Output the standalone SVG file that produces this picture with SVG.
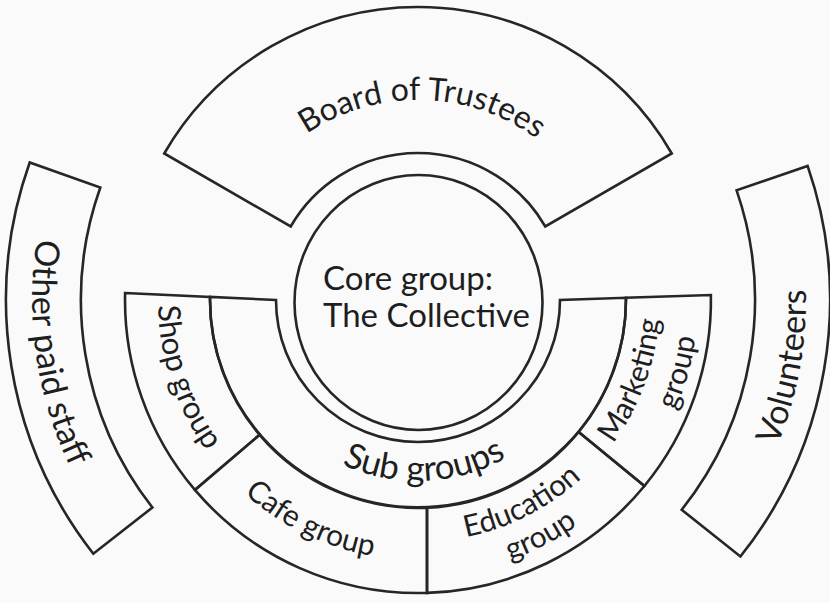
<svg xmlns="http://www.w3.org/2000/svg" width="830" height="603" viewBox="0 0 830 603">
<style>
.shape{fill:none;stroke:#262626;stroke-width:2.6;stroke-linejoin:miter}
.lbl{font-family:Lato,"Open Sans","Liberation Sans",sans-serif;font-size:30px;fill:#1e1e1e}
.mid{text-anchor:middle}
.big{font-size:34px}
</style>
<defs>
<path id="pBoard" d="M221.84,260.98 A200,200 0 0 1 615.67,269.58"/>
<path id="pSub" d="M241.09,338.25 A181,181 0 0 0 597.33,324.57"/>
<path id="pCafe" d="M168.07,228.33 A260,260 0 0 0 628.34,452.83"/>
<path id="pEdu1" d="M224.73,445.64 A242,242 0 0 0 649.42,229.25"/>
<path id="pEdu2" d="M198.74,467.64 A276,276 0 0 0 681.37,217.46"/>
<path id="pMkt1" d="M373.9,537.95 A242,242 0 0 0 540.82,91.49"/>
<path id="pMkt2" d="M391.16,578.71 A280,280 0 0 0 538.54,47.27"/>
<path id="pShop" d="M294.34,71.29 A260,260 0 0 0 455.98,557.21"/>
<path id="pOther" d="M296.8,-66.48 A386,386 0 0 0 406.55,685.83"/>
<path id="pVol" d="M415.97,688 A388,388 0 0 0 552.61,-63.9"/>
</defs>
<rect x="0" y="0" width="830" height="603" fill="#fafafa"/>
<g id="board">
<path class="shape" d="M164.25,153.5 A293,293 0 0 1 671.75,153.5 L545.3,226.5 A147,147 0 0 0 290.7,226.5 Z"/>
<text class="lbl mid" style="font-size:32px"><textPath href="#pBoard" startOffset="50%">Board of Trustees</textPath></text>
</g>
<g id="core">
<ellipse class="shape" cx="418.5" cy="302.5" rx="124" ry="127.5"/>
<text class="lbl" x="323" y="290" style="font-size:33px">Core group:</text>
<text class="lbl" x="323" y="327" style="font-size:33px">The Collective</text>
</g>
<g id="subgroups">
<path class="shape" d="M276,300 L210.02,296.9 A208,208 0 1 0 626,297.8 L560,300 A142,142 0 0 1 276,300 Z"/>
<text class="lbl mid" style="font-size:35px"><textPath href="#pSub" startOffset="50%">Sub groups</textPath></text>
</g>
<g id="shop">
<path class="shape" d="M125.1,293 L210.02,296.9 A208,208 0 0 0 259.6,434.8 L194.9,489.9 A293,293 0 0 1 125.1,293 Z"/>
<text class="lbl mid" style="font-size:31px"><textPath href="#pShop" startOffset="50%">Shop group</textPath></text>
</g>
<g id="cafe">
<path class="shape" d="M259.6,434.8 A208,208 0 0 0 427,507.8 L427,592.9 A293,293 0 0 1 194.9,489.9 Z"/>
<text class="lbl mid"><textPath href="#pCafe" startOffset="50%">Cafe group</textPath></text>
</g>
<g id="education">
<path class="shape" d="M427,507.8 A208,208 0 0 0 578.7,432 L644.4,486 A293,293 0 0 1 427,592.9 Z"/>
<text class="lbl mid"><textPath href="#pEdu1" startOffset="50%">Education</textPath></text>
<text class="lbl mid"><textPath href="#pEdu2" startOffset="50%">group</textPath></text>
</g>
<g id="marketing">
<path class="shape" d="M578.7,432 A208,208 0 0 0 626,297.8 L710.9,295 A293,293 0 0 1 644.4,486 Z"/>
<text class="lbl mid"><textPath href="#pMkt1" startOffset="50%">Marketing</textPath></text>
<text class="lbl mid"><textPath href="#pMkt2" startOffset="50%">group</textPath></text>
</g>
<g id="other-paid-staff">
<path class="shape" d="M29.7,162.5 A412,412 0 0 0 93.3,553.7 L152.4,507.5 A337,337 0 0 1 100.3,187.5 Z"/>
<text class="lbl mid big"><textPath href="#pOther" startOffset="50%">Other paid staff</textPath></text>
</g>
<g id="volunteers">
<path class="shape" d="M807.6,165.9 A412,412 0 0 1 740.4,556.5 L681.7,509.8 A337,337 0 0 0 736.6,190.3 Z"/>
<text class="lbl mid big"><textPath href="#pVol" startOffset="50%">Volunteers</textPath></text>
</g>
<g id="connectors"/>
</svg>
